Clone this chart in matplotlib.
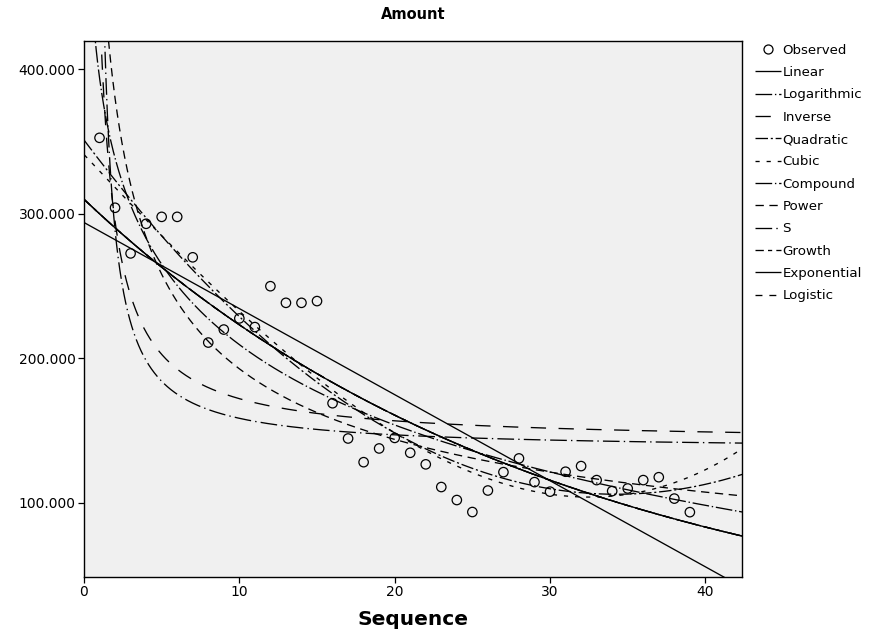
import numpy as np
import matplotlib
matplotlib.use("Agg")
import matplotlib.pyplot as plt
from matplotlib.lines import Line2D

plt.rcParams['font.family'] = ['DejaVu Sans']
plt.rcParams['lines.scale_dashes'] = False

# ---- data ----
sequence = list(range(1, 40))
amount = [352.7, 304.3, 272.7, 293.2, 298.0, 298.0, 270.0, 211.0, 220.0, 227.7,
          221.7, 250.0, 238.5, 238.5, 239.7, 169.0, 144.6, 128.2, 137.7, 145.0,
          134.7, 126.7, 111.0, 102.0, 93.7, 108.6, 121.3, 130.8, 114.4, 107.8,
          121.6, 125.5, 115.8, 108.2, 110.0, 115.8, 117.8, 103.0, 93.6]
models = ["Linear", "Logarithmic", "Inverse", "Quadratic", "Cubic", "Compound",
          "Power", "S", "Growth", "Exponential", "Logistic"]
yticks = [100, 200, 300, 400]
xticks = [0, 10, 20, 30, 40]

t = np.array(sequence, dtype=float)
y = np.array(amount, dtype=float)
ly = np.log(y)

tt = np.linspace(0.02, 42.4, 2000)


def fit_curves():
    out = {}
    b = np.polyfit(t, y, 1); out["Linear"] = np.polyval(b, tt)
    b = np.polyfit(np.log(t), y, 1); out["Logarithmic"] = np.polyval(b, np.log(tt))
    b = np.polyfit(1 / t, y, 1); out["Inverse"] = np.polyval(b, 1 / tt)
    b = np.polyfit(t, y, 2); out["Quadratic"] = np.polyval(b, tt)
    b = np.polyfit(t, y, 3); out["Cubic"] = np.polyval(b, tt)
    b = np.polyfit(t, ly, 1); e = np.exp(np.polyval(b, tt))
    out["Compound"] = e; out["Growth"] = e; out["Exponential"] = e; out["Logistic"] = e
    b = np.polyfit(np.log(t), ly, 1); out["Power"] = np.exp(np.polyval(b, np.log(tt)))
    b = np.polyfit(1 / t, ly, 1); out["S"] = np.exp(np.polyval(b, 1 / tt))
    return out


curves = fit_curves()

styles = {
    "Linear": (0, ()),
    "Logarithmic": (0, (12, 2, 1, 2)),
    "Inverse": (0, (11, 9)),
    "Quadratic": (0, (9, 2, 1.5, 2)),
    "Cubic": (0, (3, 5)),
    "Compound": (0, (12, 2, 1, 2)),
    "Power": (0, (6, 4)),
    "S": (0, (12, 3, 1, 3)),
    "Growth": (0, (6, 3, 3, 3)),
    "Exponential": (0, ()),
    "Logistic": (0, (5, 5)),
}

fig = plt.figure(figsize=(8.73, 6.41), dpi=100)
ax = fig.add_axes([0.0962, 0.1, 0.7538, 0.836])
ax.set_facecolor('#f0f0f0')

for name in models:
    ax.plot(tt, curves[name], color='black', lw=0.95, linestyle=styles[name], zorder=2)

ax.scatter(t, y, s=46, facecolors='none', edgecolors='black', linewidths=0.9, zorder=3)

ax.set_xlim(0, 42.36)
ax.set_ylim(48.8, 419.7)
ax.set_xticks(xticks)
ax.set_yticks(yticks)
ax.set_yticklabels([f"{v:.3f}" for v in yticks])
ax.tick_params(labelsize=10, length=4, width=0.9, colors='black', pad=2)
for s in ax.spines.values():
    s.set_linewidth(1.0)

ax.set_title("Amount", fontsize=10.5, fontweight='bold', pad=16)
ax.set_xlabel("Sequence", fontsize=14.5, fontweight='bold', labelpad=8)

handles = [Line2D([], [], marker='o', linestyle='none', markerfacecolor='none',
                  markeredgecolor='black', markersize=6.5, markeredgewidth=0.9)]
for name in models:
    handles.append(Line2D([], [], color='black', lw=0.95, linestyle=styles[name]))
ax.legend(handles, ["Observed"] + models, loc='upper left', bbox_to_anchor=(1.015, 1.0),
          frameon=False, fontsize=9.6, handlelength=2.0, handletextpad=0.1,
          labelspacing=0.70, borderaxespad=0.0, borderpad=0.2)

fig.savefig("out.png", dpi=100)
